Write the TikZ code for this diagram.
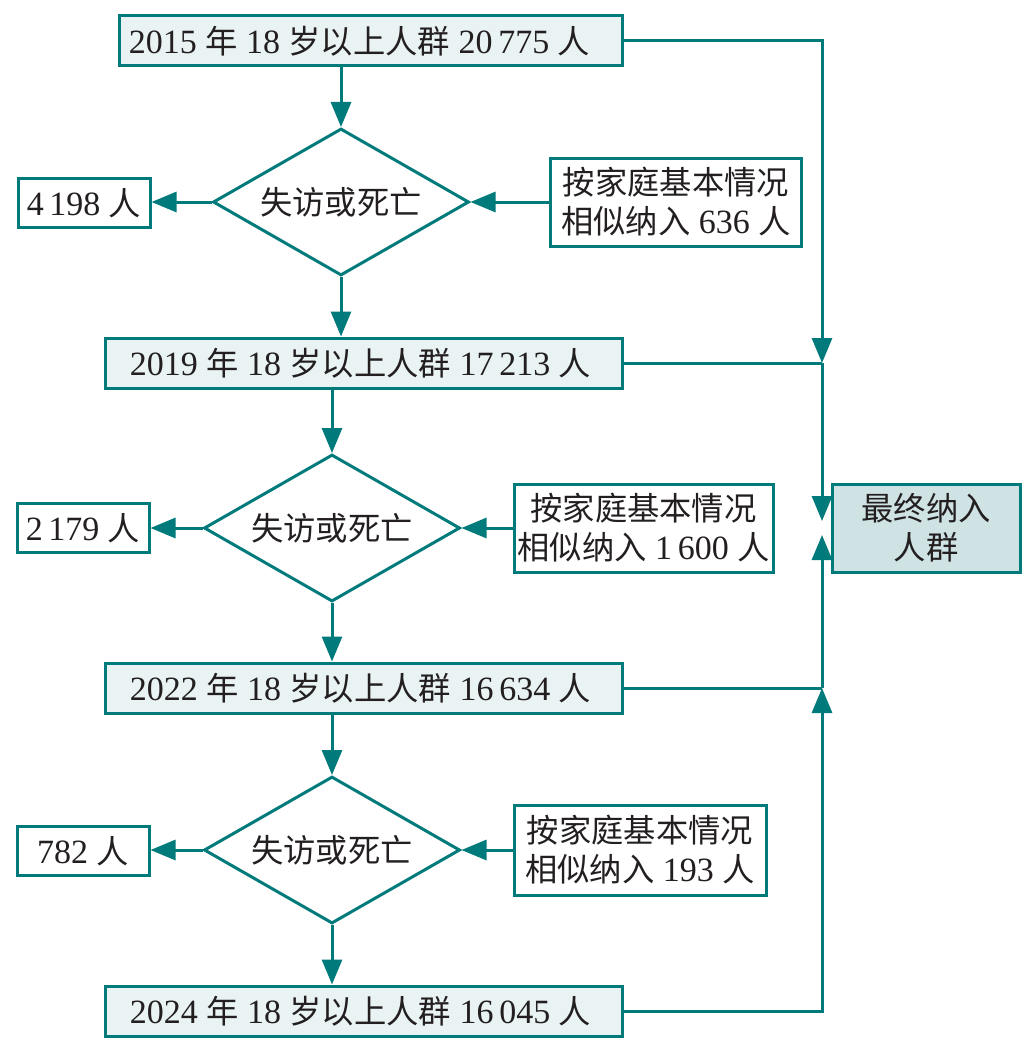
\documentclass[tikz,border=0pt]{standalone}
\usepackage{fontspec}
\setmainfont{Liberation Serif}
\newfontfamily\cjk{Noto Sans CJK SC}[Scale=0.95]
\usetikzlibrary{arrows.meta,shapes.geometric}
\definecolor{tl}{RGB}{0,122,122}
\definecolor{lightfill}{RGB}{234,243,244}
\definecolor{finalfill}{RGB}{208,227,228}
\definecolor{txt}{RGB}{35,31,32}
\newcommand\zh[1]{{\cjk #1}}
\begin{document}
\begin{tikzpicture}[x=1pt,y=-1pt,
  every node/.style={font=\fontsize{34}{39}\selectfont, text=txt},
  yearbox/.style={draw=tl, line width=3pt, fill=lightfill, minimum width=517pt, minimum height=50pt, inner sep=0pt},
  numbox/.style={draw=tl, line width=3pt, fill=white, minimum width=132pt, minimum height=49pt, inner sep=0pt},
  addbox/.style={draw=tl, line width=3pt, fill=white, align=center, inner sep=0pt, minimum height=88pt},
  finalbox/.style={draw=tl, line width=3pt, fill=finalfill, align=center, inner sep=0pt, minimum width=188pt, minimum height=88pt},
  dec/.style={draw=tl, line width=3pt, shape=diamond, aspect=1.74, minimum width=256pt, minimum height=147pt, inner sep=0pt},
  arr/.style={draw=tl, line width=3pt, -{Triangle[length=25pt,width=20pt]}},
  ln/.style={draw=tl, line width=3pt}]
\useasboundingbox (0,0) rectangle (1030,1054);

% main column
\node[yearbox, minimum width=503pt] (b1) at (370.5,41) {2015 \zh{年} 18 \zh{岁以上人群} 20\,775 \zh{人}\hspace*{22pt}};
\node[dec] (d1) at (341,202) {\zh{失访或死亡}};
\node[numbox] (n1) at (84,203) {4\,198 \zh{人}};
\node[addbox, minimum width=251pt] (s1) at (676,202) {\zh{按家庭基本情况}\\\zh{相似纳入} 636 \zh{人}};

\node[yearbox] (b2) at (363.5,363) {2019 \zh{年} 18 \zh{岁以上人群} 17\,213 \zh{人}\hspace*{6pt}};
\node[dec] (d2) at (332,528) {\zh{失访或死亡}};
\node[numbox] (n2) at (83,528) {2\,179 \zh{人}};
\node[addbox, minimum width=259pt] (s2) at (643.5,528) {\zh{按家庭基本情况}\\\zh{相似纳入} 1\,600 \zh{人}};

\node[yearbox] (b3) at (363.5,688) {2022 \zh{年} 18 \zh{岁以上人群} 16\,634 \zh{人}\hspace*{6pt}};
\node[dec] (d3) at (332,850) {\zh{失访或死亡}};
\node[numbox] (n3) at (83,851) {782 \zh{人}};
\node[addbox, minimum width=252pt, minimum height=90pt] (s3) at (640,850) {\zh{按家庭基本情况}\\\zh{相似纳入} 193 \zh{人}};

\node[yearbox] (b4) at (363.5,1011) {2024 \zh{年} 18 \zh{岁以上人群} 16\,045 \zh{人}\hspace*{6pt}};

\node[finalbox] (f) at (926,528) {\zh{最终纳入}\\\zh{人群}};

% vertical flow
\draw[arr] (b1.south -| d1.north) -- (d1.north);
\draw[arr] (d1.south) -- (d1.south |- b2.north);
\draw[arr] (b2.south -| d2.north) -- (d2.north);
\draw[arr] (d2.south) -- (d2.south |- b3.north);
\draw[arr] (b3.south -| d3.north) -- (d3.north);
\draw[arr] (d3.south) -- (d3.south |- b4.north);

% side arrows
\draw[arr] (d1.west) -- (d1.west -| n1.east);
\draw[arr] (d1.east -| s1.west) -- (d1.east);
\draw[arr] (d2.west) -- (d2.west -| n2.east);
\draw[arr] (d2.east -| s2.west) -- (d2.east);
\draw[arr] (d3.west) -- (d3.west -| n3.east);
\draw[arr] (d3.east -| s3.west) -- (d3.east);

% right collector
\coordinate (r) at (822,0);
\coordinate (t1) at (822,521);
\coordinate (t2) at (822,535);
\draw[arr] (b1.east) -| (b2.east -| r);
\draw[ln] (b2.east) -- (b2.east -| r);
\draw[arr] (b2.east -| r) -- (t1);
\draw[ln] (b3.east) -- (b3.east -| r);
\draw[arr] (b3.east -| r) -- (t2);
\draw[arr] (b4.east) -| (b3.east -| r);
\end{tikzpicture}
\end{document}
